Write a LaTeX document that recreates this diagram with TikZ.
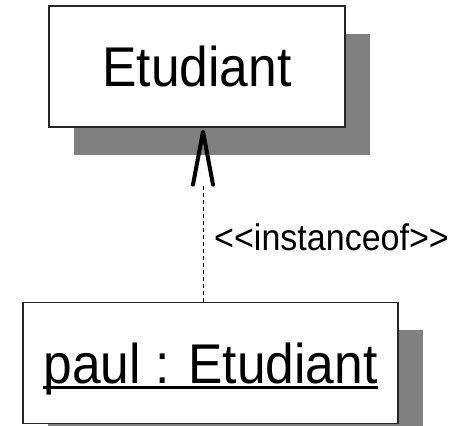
\documentclass[tikz,border=0pt]{standalone}
\usepackage{fontspec}
\setmainfont{Liberation Sans}[FakeStretch=0.92]
\usetikzlibrary{calc}
\usetikzlibrary{shadows}

% underlined object name, thick rule under the whole text
\newcommand{\objname}[1]{\setbox0\hbox{#1}\rlap{\rule[-6pt]{\wd0}{3pt}}\box0}

\begin{document}
\begin{tikzpicture}[x=1pt,y=1pt,
        classbox/.style={draw=black!85,line width=1.2pt,fill=white,
            minimum width=#1,minimum height=121pt,
            text height=41pt,text depth=0pt,
            font=\fontsize{56}{60}\selectfont,
            drop shadow={shadow xshift=25pt,shadow yshift=-28pt,
                fill=black!50,opacity=1}}]
    \useasboundingbox (0,0) rectangle (456,426);
        \draw node [classbox=296pt] at (197,359.5) (E) {Etudiant};
        \draw node [classbox=375pt] at (210.5,63) (P)
            {\objname{paul : Etudiant}};
        % open arrow head below the class
        \coordinate (tip) at ($ (E.south) + (6,-4) $);
        \coordinate (barbL) at ($ (tip) + (-10,-53) $);
        \coordinate (barbR) at ($ (tip) + (10,-53) $);
        \coordinate (tail) at ($ (tip) + (0,-53) $);
        \draw [dash pattern=on 4pt off 3pt,line width=0.8pt]
            (P.north -| tip) -- (tail);
        \draw [line width=4pt,line cap=round,line join=round]
            (barbL) -- (tip) -- (barbR);
        \draw node [anchor=base west,inner sep=0pt,
            font=\fontsize{37}{40}\selectfont] at (214,175.5) (L)
            {<{}<instanceof>{}>};
    \end{tikzpicture}
\end{document}
